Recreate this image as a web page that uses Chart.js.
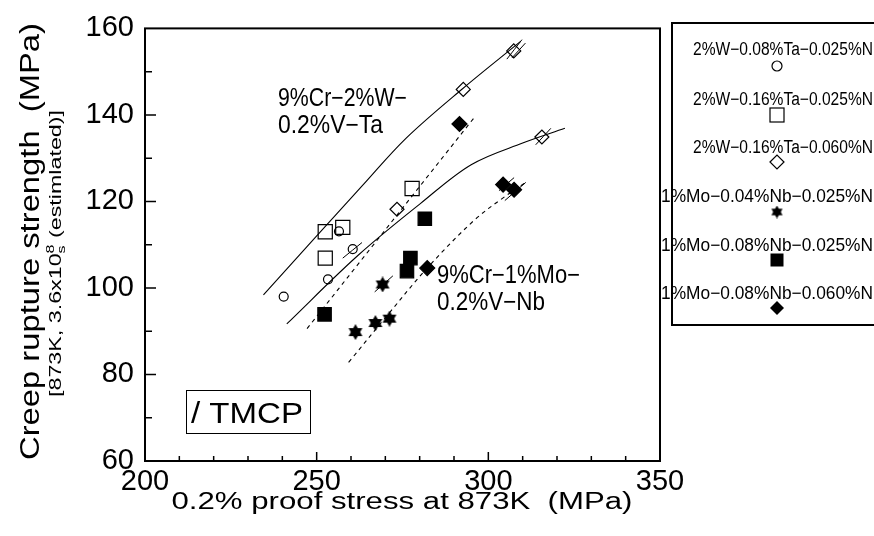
<!DOCTYPE html>
<html>
<head>
<meta charset="utf-8">
<script src="https://cdn.jsdelivr.net/npm/chart.js@4.4.0/dist/chart.umd.min.js"></script>
<style>
  html, body { margin: 0; padding: 0; background: #fff; }
</style>
</head>
<body>
<canvas id="myChart" width="874" height="536"></canvas>
<script>
// tick values
var xTicks = [200, 250, 300, 350];
var yTicks = [60, 80, 100, 120, 140, 160];

var legendLabels = [
    '2%W−0.08%Ta−0.025%N',
    '2%W−0.16%Ta−0.025%N',
    '2%W−0.16%Ta−0.060%N',
    '1%Mo−0.04%Nb−0.025%N',
    '1%Mo−0.08%Nb−0.025%N',
    '1%Mo−0.08%Nb−0.060%N'
];

// measured points (0.2% proof stress, creep rupture strength)
var circleX = [240.4, 253.3, 260.5, 256.5];
var circleY = [98.0, 102.0, 109.0, 113.1];
var openSqX = [252.5, 252.5, 257.6, 277.8];
var openSqY = [113.0, 106.9, 114.0, 123.0];
var openDiaX = [292.7, 315.6, 273.4, 307.4];
var openDiaY = [145.9, 134.9, 118.2, 154.8];
var starX = [261.3, 267.1, 271.2, 269.2];
var starY = [89.8, 91.9, 92.9, 100.8];
var fillSqX = [252.3, 277.3, 276.3, 281.5];
var fillSqY = [93.9, 106.9, 103.9, 116.0];
var fillDiaX = [291.6, 304.3, 307.5, 282.2];
var fillDiaY = [137.9, 123.9, 122.7, 104.6];

// trend curves
var taCurveX = [234.5, 263.7, 276.0, 292.4, 309.4];
var taCurveY = [98.4, 124.0, 134.6, 146.0, 157.0];
var nbCurveX = [241.3, 262.0, 280.2, 295.0, 310.0, 322.3];
var nbCurveY = [91.7, 107.5, 119.5, 128.5, 133.5, 136.9];
var dash1X = [247.2, 296.1];
var dash1Y = [90.6, 139.6];
var dash2X = [259.3, 270.5, 282.2, 295.8, 304.6, 310.9];
var dash2Y = [82.8, 93.6, 104.6, 115.6, 121.0, 124.4];

// short "/" marks (TMCP)
var tmcpX1 = [257.6, 266.9, 305.4, 306.9, 313.8, 303.1, 304.8];
var tmcpY1 = [106.9, 99.1, 152.9, 153.2, 133.1, 122.5, 120.2];
var tmcpX2 = [263.2, 272.2, 309.8, 310.8, 318.2, 307.5, 310.9];
var tmcpY2 = [110.5, 102.8, 157.4, 156.6, 136.9, 125.5, 124.4];

var FONT = "'Liberation Sans', Arial, sans-serif";
Chart.defaults.font.family = FONT;
Chart.defaults.color = '#000';

function pts(xs, ys) {
    return xs.map(function(x, i) { return {x: x, y: ys[i]}; });
}

function makeStar(size) {
    var c = document.createElement('canvas');
    c.width = size; c.height = size;
    var g = c.getContext('2d');
    var r = size / 2;
    g.fillStyle = '#000';
    for (var k = 0; k < 2; k++) {
        g.beginPath();
        for (var i = 0; i < 3; i++) {
            var a = -Math.PI / 2 + k * Math.PI + i * 2 * Math.PI / 3;
            var px = r + r * Math.cos(a), py = r + r * Math.sin(a);
            if (i) g.lineTo(px, py); else g.moveTo(px, py);
        }
        g.closePath();
        g.fill();
    }
    return c;
}
var starImg = makeStar(16);
var starSmall = makeStar(13);

function pointSet(label, xs, ys, style, radius, fill) {
    return {
        label: label,
        data: pts(xs, ys),
        showLine: false,
        pointStyle: style,
        pointRadius: radius,
        pointBorderWidth: 1.2,
        pointBorderColor: '#000',
        pointBackgroundColor: fill ? '#000' : 'rgba(0,0,0,0)'
    };
}

function lineSet(xs, ys, dash) {
    return {
        data: pts(xs, ys),
        showLine: true,
        pointRadius: 0,
        borderColor: '#000',
        borderWidth: 1.1,
        borderDash: dash || [],
        tension: 0.35
    };
}

var datasets = [
    pointSet(legendLabels[0], circleX, circleY, 'circle', 4.5, false),
    pointSet(legendLabels[1], openSqX, openSqY, 'rect', 10, false),
    pointSet(legendLabels[2], openDiaX, openDiaY, 'rectRot', 7, false),
    pointSet(legendLabels[3], starX, starY, starImg, 8, true),
    pointSet(legendLabels[4], fillSqX, fillSqY, 'rect', 9.5, true),
    pointSet(legendLabels[5], fillDiaX, fillDiaY, 'rectRot', 7.5, true),
    lineSet(taCurveX, taCurveY),
    lineSet(nbCurveX, nbCurveY),
    lineSet(dash1X, dash1Y, [4, 4]),
    lineSet(dash2X, dash2Y, [4, 4])
];
for (var i = 0; i < tmcpX1.length; i++) {
    var s = lineSet([tmcpX1[i], tmcpX2[i]], [tmcpY1[i], tmcpY2[i]]);
    s.borderWidth = 1;
    datasets.push(s);
}

// draw text squeezed/stretched to a given width
function fitText(ctx, text, x, y, w, font, align) {
    ctx.save();
    ctx.font = font;
    var m = ctx.measureText(text).width;
    ctx.translate(x, y);
    ctx.scale(w / m, 1);
    ctx.textAlign = align || 'left';
    ctx.fillText(text, 0, 0);
    ctx.restore();
}

function drawSym(ctx, kind, x, y) {
    ctx.save();
    ctx.lineWidth = 1.2;
    ctx.strokeStyle = '#000';
    ctx.fillStyle = '#000';
    ctx.beginPath();
    if (kind == 0) {
        ctx.arc(x, y, 5, 0, Math.PI * 2);
        ctx.stroke();
    } else if (kind == 1) {
        ctx.strokeRect(x - 7, y - 7, 14, 14);
    } else if (kind == 2 || kind == 5) {
        ctx.moveTo(x - 7, y); ctx.lineTo(x, y - 7); ctx.lineTo(x + 7, y); ctx.lineTo(x, y + 7);
        ctx.closePath();
        if (kind == 5) ctx.fill(); else ctx.stroke();
    } else if (kind == 3) {
        ctx.drawImage(starSmall, x - 6.5, y - 6.5);
    } else if (kind == 4) {
        ctx.fillRect(x - 6.5, y - 6.5, 13, 13);
    }
    ctx.restore();
}

var decorPlugin = {
    id: 'decor',
    afterDraw: function(chart) {
        var ctx = chart.ctx;
        var a = chart.chartArea;
        var xs = chart.scales.x, ys = chart.scales.y;
        ctx.save();
        ctx.strokeStyle = '#000';
        ctx.fillStyle = '#000';

        // frame
        ctx.lineWidth = 2;
        ctx.strokeRect(a.left, a.top, a.right - a.left, a.bottom - a.top);

        // inward ticks
        ctx.lineWidth = 1.5;
        ctx.beginPath();
        for (var v = 210; v < 350; v += 10) {
            var px = xs.getPixelForValue(v);
            var len = (v % 50 == 0) ? 9 : 5;
            ctx.moveTo(px, a.bottom); ctx.lineTo(px, a.bottom - len);
        }
        for (var w = 70; w < 160; w += 10) {
            var py = ys.getPixelForValue(w);
            var len2 = (w % 20 == 0) ? 11 : 7;
            ctx.moveTo(a.left, py); ctx.lineTo(a.left + len2, py);
        }
        ctx.stroke();

        // curve labels
        ctx.textBaseline = 'alphabetic';
        fitText(ctx, '9%Cr−2%W−', 278, 106, 129, '25px ' + FONT);
        fitText(ctx, '0.2%V−Ta', 278, 133, 105, '25px ' + FONT);
        fitText(ctx, '9%Cr−1%Mo−', 437, 283, 143, '25px ' + FONT);
        fitText(ctx, '0.2%V−Nb', 437, 310, 108, '25px ' + FONT);

        // TMCP box
        ctx.lineWidth = 1;
        ctx.strokeRect(186.5, 390.5, 124, 43);
        fitText(ctx, '/ TMCP', 191, 423, 112, '29px ' + FONT);

        // x title
        fitText(ctx, '0.2% proof stress at 873K  (MPa)', 402, 509, 461, '23px ' + FONT, 'center');

        // y title, two lines
        ctx.save();
        ctx.translate(32, 241.5);
        ctx.rotate(-Math.PI / 2);
        ctx.textBaseline = 'middle';
        fitText(ctx, 'Creep rupture strength  (MPa)', 0, 0, 437, '27px ' + FONT, 'center');
        ctx.restore();

        ctx.save();
        ctx.translate(57, 253.5);
        ctx.rotate(-Math.PI / 2);
        ctx.textBaseline = 'middle';
        var p1 = '[873K, 3.6x10', p2 = '8', p3 = 's', p4 = ' (estimlated)]';
        ctx.font = '16px ' + FONT;
        var w1 = ctx.measureText(p1).width, w4 = ctx.measureText(p4).width;
        ctx.font = '11px ' + FONT;
        var w2 = Math.max(ctx.measureText(p2).width, ctx.measureText(p3).width);
        var tot = w1 + w2 + w4;
        var sc = 287 / tot;
        ctx.scale(sc, 1);
        var x0 = -tot / 2;
        ctx.font = '16px ' + FONT;
        ctx.fillText(p1, x0, 0);
        ctx.font = '11px ' + FONT;
        ctx.fillText(p2, x0 + w1, -6);
        ctx.fillText(p3, x0 + w1, 5);
        ctx.font = '16px ' + FONT;
        ctx.fillText(p4, x0 + w1 + w2, 0);
        ctx.restore();

        // legend box (right edge runs off the page)
        ctx.lineWidth = 2;
        ctx.strokeRect(672, 23, 230, 302);
        var baseY = [55, 105, 153, 202, 251, 299];
        var symY = [66, 115, 162, 212, 260, 308];
        for (var k = 0; k < legendLabels.length; k++) {
            var left = k < 3 ? 693 : 661;
            var wid = k < 3 ? 180 : 212;
            fitText(ctx, legendLabels[k], left, baseY[k], wid, '18px ' + FONT);
            drawSym(ctx, k, 777, symY[k]);
        }
        ctx.restore();
    }
};

var config = {
    type: 'scatter',
    data: {datasets: datasets},
    options: {
        responsive: false,
        devicePixelRatio: 1,
        animation: false,
        layout: {padding: {left: 0, top: 22, right: 214, bottom: 0}},
        plugins: {legend: {display: false}, tooltip: {enabled: false}},
        scales: {
            x: {
                type: 'linear', min: 200, max: 350,
                grid: {display: false, drawTicks: false},
                border: {display: false},
                afterBuildTicks: function(scale) {
                    scale.ticks = xTicks.map(function(v) { return {value: v}; });
                },
                afterFit: function(scale) { scale.height = 75; },
                ticks: {font: {size: 29}, color: '#000', padding: 4, maxRotation: 0}
            },
            y: {
                type: 'linear', min: 60, max: 160,
                grid: {display: false, drawTicks: false},
                border: {display: false},
                afterBuildTicks: function(scale) {
                    scale.ticks = yTicks.map(function(v) { return {value: v}; });
                },
                afterFit: function(scale) { scale.width = 145; },
                ticks: {font: {size: 29}, color: '#000', padding: 11}
            }
        }
    },
    plugins: [decorPlugin]
};

var myChart = new Chart(document.getElementById('myChart'), config);
</script>
</body>
</html>
